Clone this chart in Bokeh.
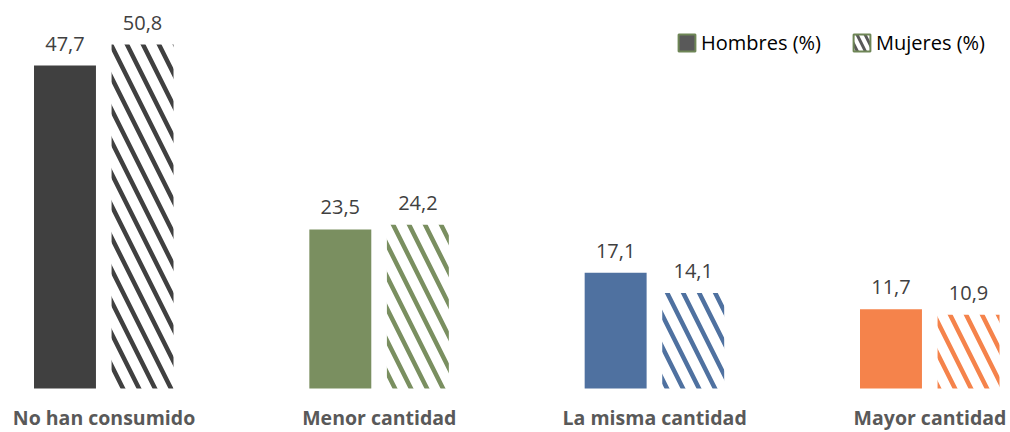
from bokeh.plotting import figure
from bokeh.models import ColumnDataSource, Range1d, Legend, LegendItem
from bokeh.core.properties import value
from bokeh.transform import dodge
from bokeh.embed import file_html
from bokeh.resources import INLINE

categories = ["No han consumido", "Menor cantidad", "La misma cantidad", "Mayor cantidad"]
hombres = [47.7, 23.5, 17.1, 11.7]
mujeres = [50.8, 24.2, 14.1, 10.9]
colors = ["#404040", "#7A8F60", "#4F71A0", "#F5834B"]
legend_labels = ["Hombres (%)", "Mujeres (%)"]

idx = list(range(len(categories)))
src = ColumnDataSource(dict(
    x=idx, h=hombres, m=mujeres, color=colors,
    hl=[f"{v:.1f}".replace(".", ",") for v in hombres],
    ml=[f"{v:.1f}".replace(".", ",") for v in mujeres],
    cat=categories,
))

W, H = 1010, 432
p = figure(width=W, height=H, output_backend="svg", toolbar_location=None,
           x_range=Range1d(-0.3759, 3.2924), y_range=Range1d(-6.50, 57.31),
           min_border=0, min_border_left=0, min_border_right=0,
           min_border_top=0, min_border_bottom=0)
p.axis.visible = False
p.grid.visible = False
p.outline_line_color = None
p.background_fill_color = "white"

bw = 0.225
rh = p.vbar(x=dodge("x", -0.1417, range=p.x_range), top="h", width=bw, bottom=0,
            source=src, fill_color="color", line_color=None)
rm = p.vbar(x=dodge("x", 0.14, range=p.x_range), top="m", width=bw, bottom=0,
            source=src, fill_color="white", line_color=None,
            hatch_pattern="\\", hatch_color="color", hatch_scale=32, hatch_weight=4.5)

# legend-only renderers (NaN data draws nothing), styled like the reference's legend keys
lsrc = ColumnDataSource(dict(x=[float("nan")], top=[float("nan")]))
lh = p.vbar(x="x", top="top", width=bw, source=lsrc, fill_color="#595959",
            line_color="#6E8656", line_width=2)
lm = p.vbar(x="x", top="top", width=bw, source=lsrc, fill_color="white",
            line_color="#6E8656", line_width=2,
            hatch_pattern="\\", hatch_color="#595959", hatch_scale=16, hatch_weight=3)

lab_font = value("Open Sans")
p.text(x=dodge("x", -0.1417, range=p.x_range), y="h", text="hl", source=src,
       text_align="center", text_baseline="alphabetic", y_offset=-22,
       text_font=lab_font, text_font_size="20px", text_color="#404040")
p.text(x=dodge("x", 0.14, range=p.x_range), y="m", text="ml", source=src,
       text_align="center", text_baseline="alphabetic", y_offset=-22,
       text_font=lab_font, text_font_size="20px", text_color="#404040")

p.text(x="x", y=-5.17, text="cat", source=src, y_offset=-6,
       text_align="center", text_baseline="alphabetic",
       text_font=lab_font, text_font_size="19.5px", text_font_style="bold",
       text_color="#595959")

legend = Legend(items=[LegendItem(label=legend_labels[0], renderers=[lh], index=0),
                       LegendItem(label=legend_labels[1], renderers=[lm], index=0)],
                orientation="horizontal", location=(676, 432 - 35 - 21),
                padding=0, margin=0, spacing=30, label_standoff=4,
                glyph_width=21, glyph_height=21, label_height=21,
                label_text_font="Open Sans", label_text_font_size="20px",
                label_text_color="#000000",
                border_line_color=None, background_fill_alpha=0)
p.add_layout(legend, "center")

open("out.html", "w").write(file_html(p, INLINE))
